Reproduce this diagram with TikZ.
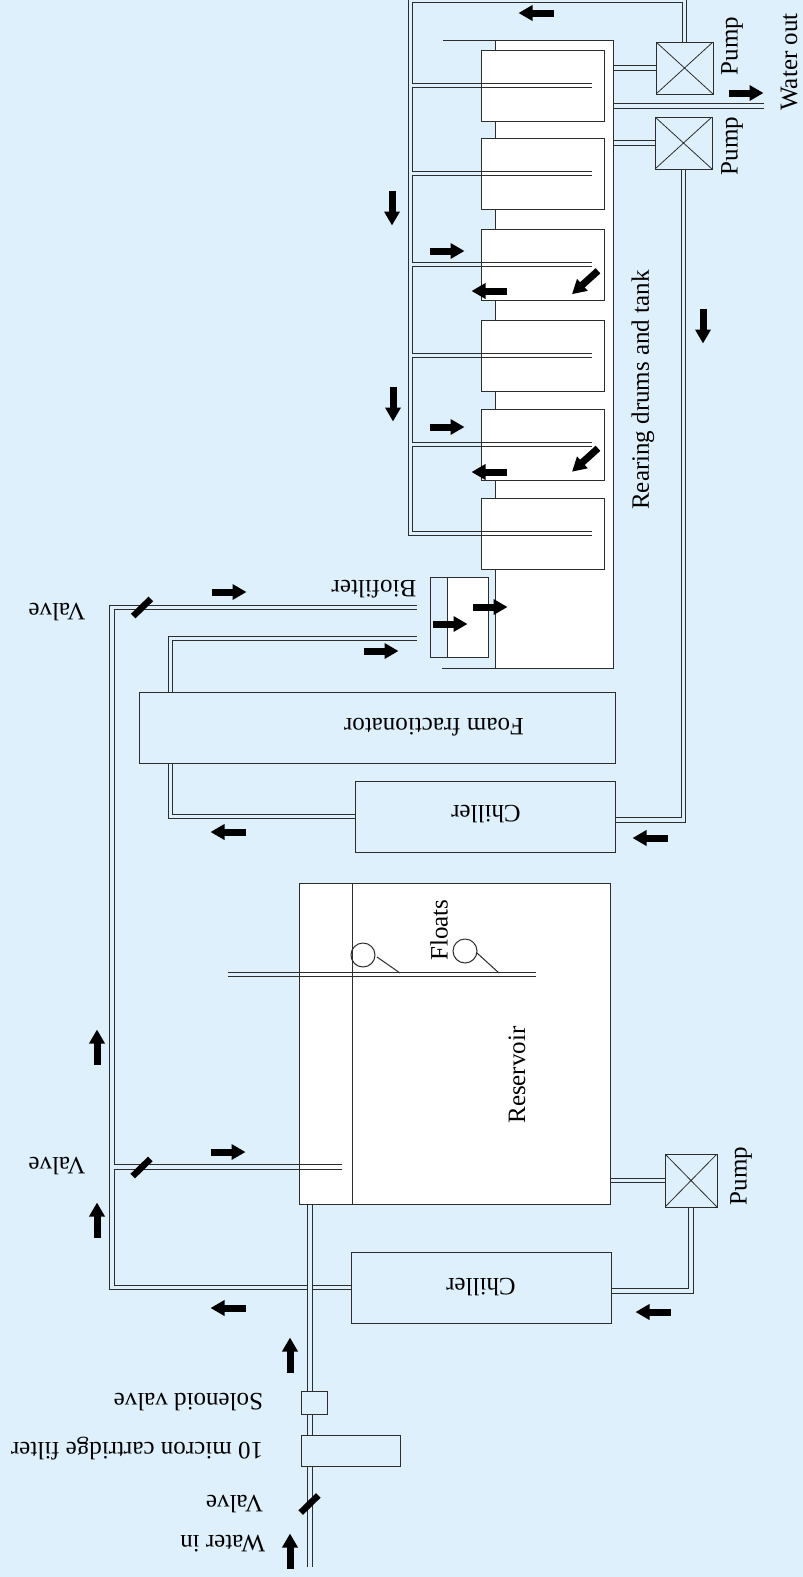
\documentclass[tikz,border=0pt]{standalone}
\usepackage{fontspec}
\setmainfont{Liberation Serif}
\usetikzlibrary{arrows.meta}
\definecolor{skyback}{RGB}{222,240,251}
\definecolor{inkgray}{RGB}{45,45,45}
\pgfdeclarelayer{backdrop}
\pgfdeclarelayer{piping}
\pgfsetlayers{backdrop,piping,main}

\begin{document}
\begin{tikzpicture}[x=1pt,y=-1pt,inner sep=0pt,outer sep=0pt,font=\fontsize{25}{30}\selectfont]
\tikzstyle{vessel}=[rectangle, draw=inkgray, line width=1pt, fill=skyback, anchor=north west]
\tikzstyle{wvessel}=[vessel, fill=white]
\tikzstyle{pumpbox}=[vessel, minimum width=57pt, minimum height=52pt,
  path picture={\draw[inkgray,line width=0.8pt] (path picture bounding box.north west) -- (path picture bounding box.south east)
    (path picture bounding box.north east) -- (path picture bounding box.south west);}]
\tikzstyle{pipe}=[draw=inkgray, line width=1pt, double=skyback, double distance=3.7pt]
\tikzstyle{wpipe}=[pipe, double=white]
\tikzstyle{wall}=[draw=inkgray, line width=1pt]
\tikzstyle{flow}=[line width=7pt, -{Triangle[length=14pt,width=15pt]}]
\tikzstyle{valve}=[line width=6.5pt]
\tikzstyle{downtext}=[rotate=180]
\tikzstyle{sidetext}=[rotate=90]
\begin{pgfonlayer}{backdrop}
\fill[skyback] (0,0) rectangle (803,1577);
\end{pgfonlayer}
\useasboundingbox (0,0) rectangle (803,1577);

% rearing drums and tank
\node[wvessel, minimum width=118pt, minimum height=628pt] (tank) at (495,40) {};
\draw[wall] (443,40) -- (tank.north west) (442,668) -- (tank.south west);
\foreach \y [count=\i] in {50,138,229,320,409,498} {
  \node[wvessel, minimum width=123pt, minimum height=71pt] (drum\i) at (481,\y) {};
  \coordinate (dend\i) at (592,\y+35.5);
  \draw[wpipe] ([xshift=0.5pt]drum\i.west) -- (dend\i);
}
\node[pumpbox] (pumpA) at (656,42) {};
\node[pumpbox] (pumpB) at (655,117) {};
\node[sidetext] (lblpumpA) at (732,46) {Pump};
\node[sidetext] (lblpumpB) at (732,146) {Pump};
\node[sidetext] (lblout) at (789,62) {Water out};
\node[sidetext] (lbltank) at (643,390) {Rearing drums and tank};
\coordinate (mtop) at (410.5,0.5);
\coordinate (wout) at (764,106);

% foam fractionator, biofilter, chiller
\node[vessel, minimum width=476pt, minimum height=71pt] (foam) at (139,692) {};
\node[downtext] (lblfoam) at (434,727) {Foam fractionator};
\node[vessel, minimum width=260pt, minimum height=71pt] (uchill) at (355,781) {};
\node[downtext] (lbluchill) at (486,814) {Chiller};
\node[vessel, minimum width=58pt, minimum height=80pt] (bio) at (430,577) {};
\draw[wall, fill=white] ([xshift=17pt]bio.north west) rectangle (bio.south east);
\node[downtext] (lblbio) at (374,589) {Biofilter};
\coordinate (fx) at (170.5,638.5);
\coordinate (bioin) at (417,607.5);
\coordinate (bioin2) at (417,638.5);
\coordinate (lft) at (112,607.5);

% reservoir, chiller, pump
\node[wvessel, minimum width=311pt, minimum height=321pt] (res) at (299,883) {};
\node[sidetext] (lblres) at (517,1075) {Reservoir};
\node[sidetext] (lblfloats) at (439,930) {Floats};
\node[vessel, minimum width=260pt, minimum height=71pt] (lchill) at (351,1252) {};
\node[downtext] (lbllchill) at (481,1287) {Chiller};
\node[pumpbox, minimum width=52pt, minimum height=53pt] (pumpC) at (665,1154) {};
\node[sidetext] (lblpumpC) at (741,1176) {Pump};
\coordinate (fl1) at (228,974.5);
\coordinate (fl2) at (536,974.5);
\coordinate (resin) at (342,1167);
\draw[wpipe] (299.5,0 |- fl1) -- (fl2);
\draw[wpipe] (299.5,0 |- resin) -- (resin);
\draw[wall] ([xshift=53pt]res.north west) -- ([xshift=53pt]res.south west);
\draw[wall] (363,955) circle[radius=12pt] (377,957) -- (400,973);
\draw[wall] (465,951) circle[radius=12pt] (477,953) -- (499,973);

% water in line
\node[vessel, minimum width=26pt, minimum height=23pt] (sol) at (301,1391) {};
\node[vessel, minimum width=99pt, minimum height=31pt] (cart) at (301,1435) {};
\node[downtext, anchor=west] (lblsol) at (263,1402) {Solenoid valve};
\node[downtext, anchor=west] (lblcart) at (263,1449) {10 micron cartridge filter};
\node[downtext, anchor=west] (lblvalve3) at (263,1504) {Valve};
\node[downtext, anchor=west] (lblin) at (265,1544) {Water in};
\node[downtext] (lblvalve1) at (57,612) {Valve};
\node[downtext] (lblvalve2) at (57,1166) {Valve};
\coordinate (win) at (310,1567);

\begin{pgfonlayer}{piping}
\draw[pipe] (pumpA.north) |- (mtop) |- (dend6);
\foreach \i in {1,...,5}
  \draw[pipe] (412.35,0 |- dend\i) -- (dend\i);
\draw[pipe] (tank.east |- pumpA.west) -- (pumpA.west);
\draw[pipe] (tank.east |- wout) -- (wout);
\draw[pipe] (tank.east |- pumpB.west) -- (pumpB.west);
\draw[pipe] (fl1) -- (fl2);
\draw[pipe] (lchill.west) -| (lft) -- (bioin);
\draw[pipe] (113.85,0 |- resin) -- (resin);
\draw[pipe] (uchill.west) -| (foam.south -| fx);
\draw[pipe] (foam.north -| fx) |- (bioin2);
\draw[pipe] (pumpB.south) |- ([yshift=-3.5pt]uchill.east);
\draw[pipe] (res.east |- pumpC.west) -- (pumpC.west);
\draw[pipe] (pumpC.south) |- ([yshift=-3.5pt]lchill.east);
\draw[pipe] (win) -- (res.south -| win);
\end{pgfonlayer}

% valves and flow arrows
\foreach \x/\y in {142/607.5, 141.5/1167.5, 309.5/1504}
  \draw[valve] (\x,\y) ++(-8.8,8.6) -- ++(17.6,-17.2);
\foreach \x/\y/\a in {97/1220/270, 97/1047/270, 228/1152/0, 228/1308/180,
    290/1355/270, 290/1551/270, 653/1312/180, 650/838/180, 228/832/180,
    229/592/0, 381/651/0, 450/624/0, 490/607/0, 703/326/90, 392/208/90,
    393/404/90, 447/251/0, 447/427/0, 489/291/180, 489/472/180,
    585/282.5/138, 585/460/138, 536/13/180, 746/93/0}
  \draw[flow] (\x,\y) ++(\a+180:17.5) -- ++(\a:35);
\end{tikzpicture}
\end{document}
